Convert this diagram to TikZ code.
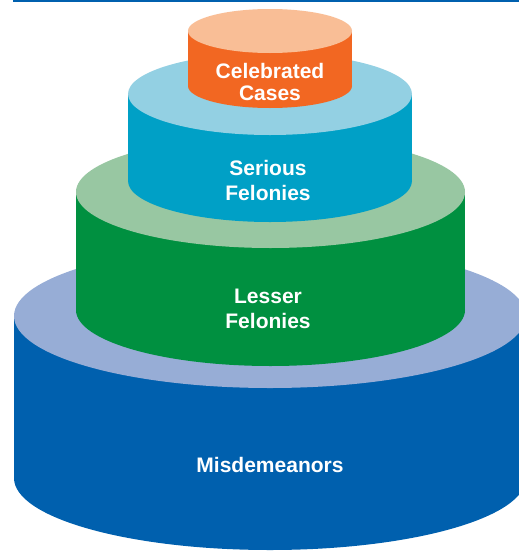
\documentclass[tikz,border=0pt]{standalone}
\usepackage{fontspec}
\setmainfont{Liberation Sans}
\definecolor{orangeTop}{HTML}{F9BE96}
\definecolor{orangeSide}{HTML}{F26722}
\definecolor{cyanTop}{HTML}{93D0E3}
\definecolor{cyanSide}{HTML}{00A0C6}
\definecolor{greenTop}{HTML}{98C7A2}
\definecolor{greenSide}{HTML}{009040}
\definecolor{blueTop}{HTML}{97ADD6}
\definecolor{blueSide}{HTML}{0060AE}
\tikzset{
  tierlabel/.style={text=white, font=\bfseries\fontsize{21}{25}\selectfont, align=center, inner sep=0pt},
}
% #1 cx, #2 rx, #3 top center y, #4 bottom center y, #5 ry, #6 side colour, #7 top colour
\newcommand{\tiercyl}[7]{%
  \fill[#6] (#1-#2,#3) rectangle (#1+#2,#4);
  \fill[#6] (#1,#4) ellipse [x radius=#2pt, y radius=#5pt];
  \fill[#7] (#1,#3) ellipse [x radius=#2pt, y radius=#5pt];
}
\begin{document}
\begin{tikzpicture}[x=1pt,y=-1pt]
\useasboundingbox (0,0) rectangle (519,552);
\clip (0,0) rectangle (519,552);
\fill[white] (0,0) rectangle (519,552);
\draw[blueSide, line width=2pt] (13,1) -- (519,1);
% bottom tier
\tiercyl{270}{256}{316}{478}{72}{blueSide}{blueTop}
% third tier
\tiercyl{270.5}{194.5}{192}{310}{56}{greenSide}{greenTop}
% second tier
\tiercyl{270}{142}{94}{181}{41}{cyanSide}{cyanTop}
% top tier
\tiercyl{270}{82}{31}{86}{22}{orangeSide}{orangeTop}
\node[tierlabel, font=\bfseries\fontsize{21}{22}\selectfont] (celeb) at (270,82) {Celebrated\\Cases};
\node[tierlabel] (serious) at (268,180) {Serious\\Felonies};
\node[tierlabel] (lesser) at (268,309) {Lesser\\Felonies};
\node[tierlabel] (misd) at (270,464.5) {Misdemeanors};
\end{tikzpicture}
\end{document}
